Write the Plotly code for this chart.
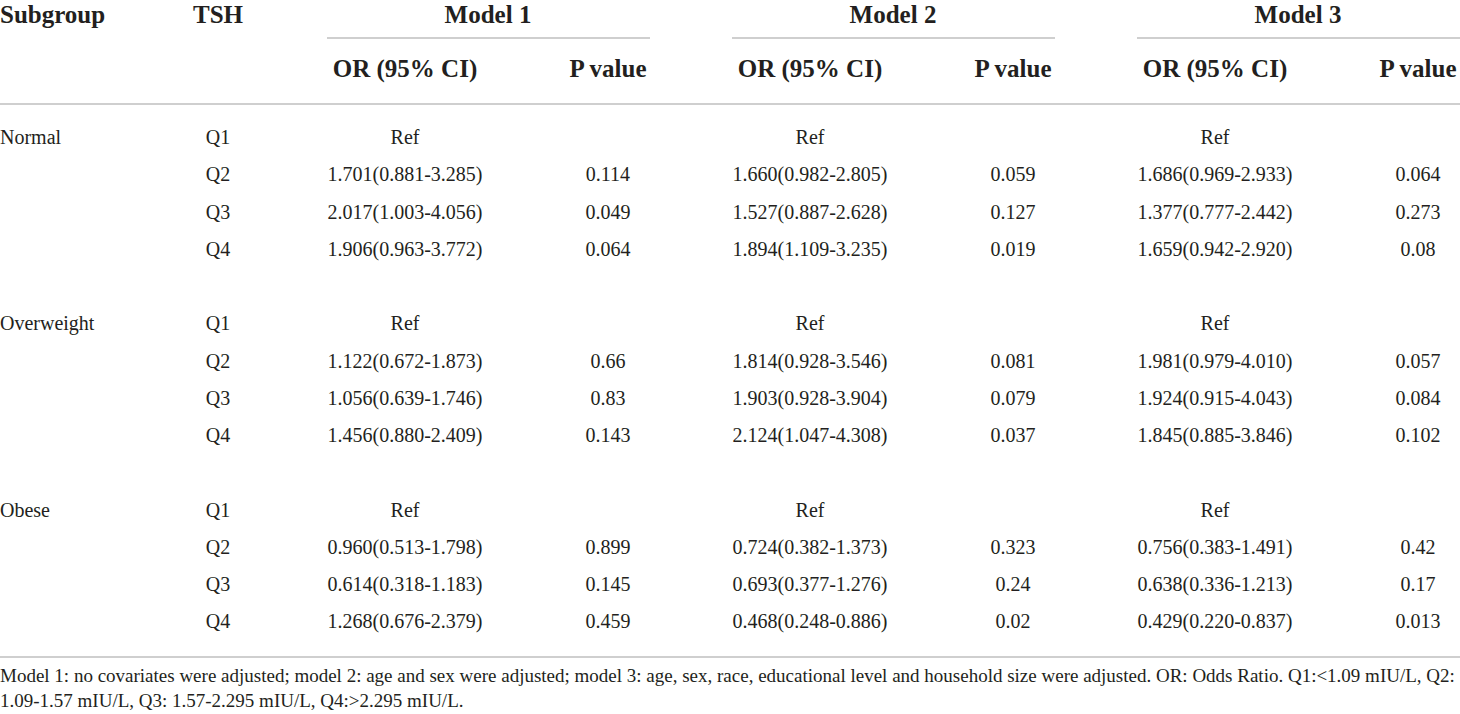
import plotly.graph_objects as go

# table content
subgroups = ["Normal", "Overweight", "Obese"]
quartiles = ["Q1", "Q2", "Q3", "Q4"]
models = ["Model 1", "Model 2", "Model 3"]

or_m1 = ["Ref", "1.701(0.881-3.285)", "2.017(1.003-4.056)", "1.906(0.963-3.772)",
         "Ref", "1.122(0.672-1.873)", "1.056(0.639-1.746)", "1.456(0.880-2.409)",
         "Ref", "0.960(0.513-1.798)", "0.614(0.318-1.183)", "1.268(0.676-2.379)"]
p_m1 = ["", "0.114", "0.049", "0.064",
        "", "0.66", "0.83", "0.143",
        "", "0.899", "0.145", "0.459"]
or_m2 = ["Ref", "1.660(0.982-2.805)", "1.527(0.887-2.628)", "1.894(1.109-3.235)",
         "Ref", "1.814(0.928-3.546)", "1.903(0.928-3.904)", "2.124(1.047-4.308)",
         "Ref", "0.724(0.382-1.373)", "0.693(0.377-1.276)", "0.468(0.248-0.886)"]
p_m2 = ["", "0.059", "0.127", "0.019",
        "", "0.081", "0.079", "0.037",
        "", "0.323", "0.24", "0.02"]
or_m3 = ["Ref", "1.686(0.969-2.933)", "1.377(0.777-2.442)", "1.659(0.942-2.920)",
         "Ref", "1.981(0.979-4.010)", "1.924(0.915-4.043)", "1.845(0.885-3.846)",
         "Ref", "0.756(0.383-1.491)", "0.638(0.336-1.213)", "0.429(0.220-0.837)"]
p_m3 = ["", "0.064", "0.273", "0.08",
        "", "0.057", "0.084", "0.102",
        "", "0.42", "0.17", "0.013"]

footnote = [
    "Model 1: no covariates were adjusted; model 2: age and sex were adjusted; model 3: age, sex, race, "
    "educational level and household size were adjusted. OR: Odds Ratio. Q1:<1.09 mIU/L, Q2:",
    "1.09-1.57 mIU/L, Q3: 1.57-2.295 mIU/L, Q4:>2.295 mIU/L.",
]

# layout (pixel-like coordinates)
W, H = 1460, 714
FONT = "Liberation Serif"
BODY = 20
HEAD = 25
NOTE = 19
LINE = "#cfcfcf"
row_y0, row_h = 139, 37.25
col_or = [405, 810, 1215]
col_p = [608, 1013, 1418]
col_model = [488, 893, 1298]
span = [(327, 650), (732, 1055), (1137, 1460)]
x_tsh = 218
y_head1, y_head2 = 17, 71
y_note = [677, 702]

# row positions: 4 quartile rows per subgroup, one blank row between groups
row_idx = [g * 5 + q for g in range(len(subgroups)) for q in range(len(quartiles))]
ys = [row_y0 + row_h * i for i in row_idx]
group_ys = [row_y0 + row_h * g * 5 for g in range(len(subgroups))]

fig = go.Figure()


def add_text(x, y, text, size, pos="middle center", bold=False):
    fig.add_trace(go.Scatter(
        x=x, y=y, text=text, mode="text", textposition=pos,
        textfont=dict(family=FONT, size=size, color="#231f20",
                      weight="bold" if bold else "normal"),
        hoverinfo="skip", showlegend=False, cliponaxis=False,
    ))


# header
add_text([0], [y_head1], ["Subgroup"], HEAD, "middle right", True)
add_text([x_tsh], [y_head1], ["TSH"], HEAD, bold=True)
add_text(col_model, [y_head1] * 3, models, HEAD, bold=True)
add_text(col_or, [y_head2] * 3, ["OR (95% CI)"] * 3, HEAD, bold=True)
add_text(col_p, [y_head2] * 3, ["P value"] * 3, HEAD, bold=True)

# body
add_text([0] * len(subgroups), group_ys, subgroups, BODY, "middle right")
add_text([x_tsh] * len(ys), ys, quartiles * len(subgroups), BODY)
for cx, vals in zip(col_or, [or_m1, or_m2, or_m3]):
    add_text([cx] * len(ys), ys, vals, BODY)
for cx, vals in zip(col_p, [p_m1, p_m2, p_m3]):
    add_text([cx] * len(ys), ys, vals, BODY)

# footnote
add_text([0, 0], y_note, footnote, NOTE, "middle right")

# rules
for x0, x1 in span:
    fig.add_shape(type="line", x0=x0, x1=x1, y0=38, y1=38, line=dict(color=LINE, width=2))
for yy in [104, 657]:
    fig.add_shape(type="line", x0=0, x1=W, y0=yy, y1=yy, line=dict(color=LINE, width=2))

fig.update_layout(
    width=W, height=H,
    margin=dict(l=0, r=0, t=0, b=0),
    paper_bgcolor="white", plot_bgcolor="white",
    xaxis=dict(range=[0, W], visible=False, fixedrange=True),
    yaxis=dict(range=[H, 0], visible=False, fixedrange=True),
)

fig.write_html("out.html", config={"displayModeBar": False},
               post_script="document.body.style.margin='0';document.body.style.overflow='hidden';")
